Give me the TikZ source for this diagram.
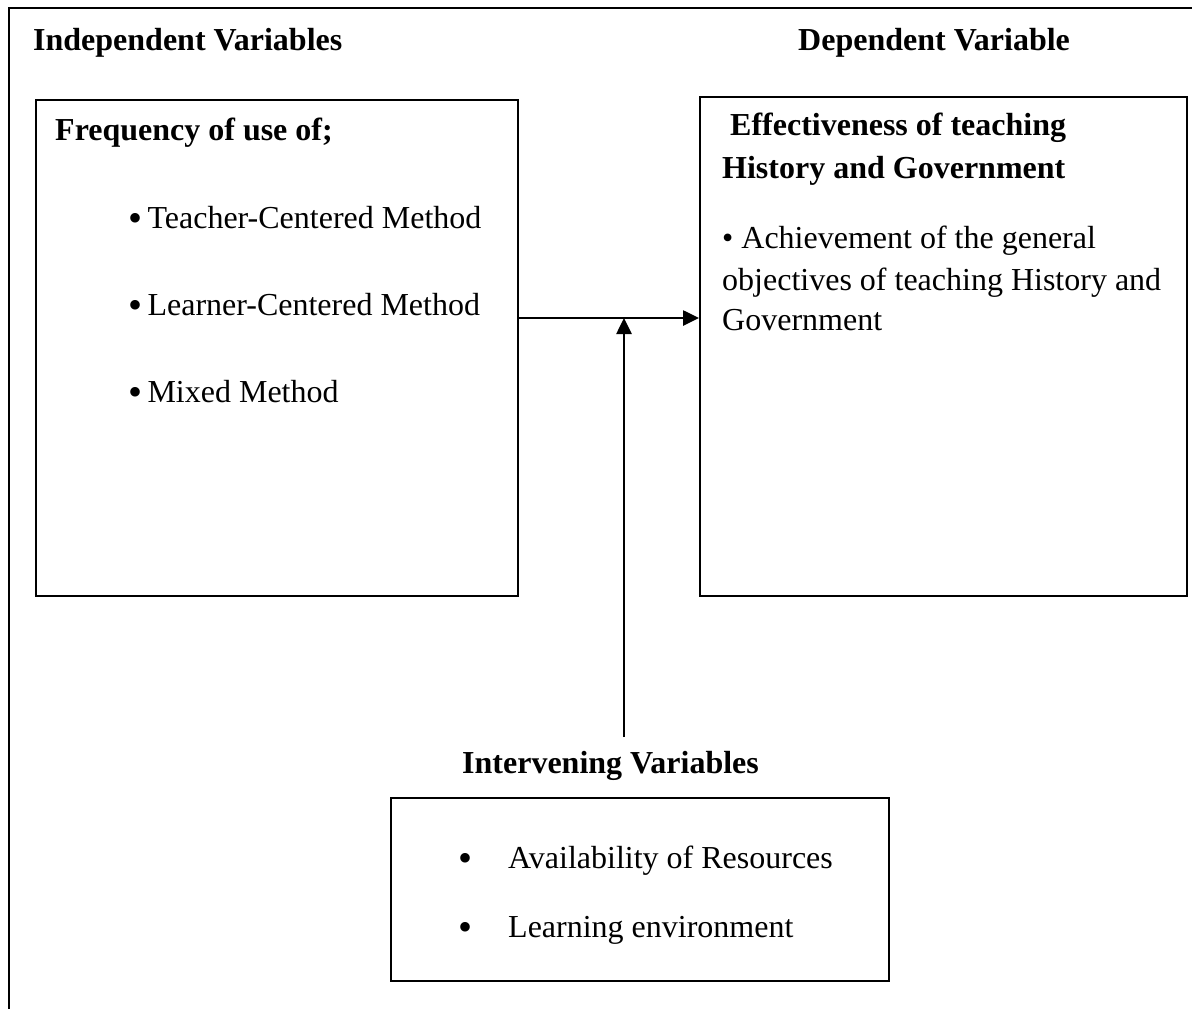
\documentclass[tikz,border=0pt]{standalone}
\usepackage{fontspec}
\setmainfont{Liberation Serif}
\usetikzlibrary{arrows.meta}
\newcommand{\bigbul}{\raisebox{-3.5bp}{\fontsize{40bp}{41bp}\selectfont •}}
\begin{document}
\begin{tikzpicture}[x=1bp,y=-1bp,
  txt/.style={anchor=base west,inner sep=0pt,font=\fontsize{32bp}{41bp}\selectfont},
  hd/.style={txt,font=\fontsize{32bp}{41bp}\selectfont\bfseries},
  box/.style={draw,line width=2bp,inner sep=0pt},
  arr/.style={line width=2.6bp,-{Triangle[length=16bp,width=15bp]}}]
\useasboundingbox (0,0) rectangle (1192,1009);
\draw[line width=2.4bp] (1192,8) -- (9,8) -- (9,1009);
% headings
\node[hd] (hind) at (33,50) {Independent Variables};
\node[hd] (hdep) at (798,50) {Dependent Variable};
\node[hd] (hint) at (462,773) {Intervening Variables};
% boxes
\node[box,minimum width=482bp,minimum height=496bp] (lbox) at (277,348) {};
\node[box,minimum width=487bp,minimum height=499bp] (rbox) at (943.5,346.5) {};
\node[box,minimum width=498bp,minimum height=183bp] (ibox) at (640,889.5) {};
% left box text
\node[hd] (freq) at (55,140) {Frequency of use of;};
\node[txt] (t1) at (128,228) {\bigbul\,Teacher-Centered Method};
\node[txt] (t2) at (128,315) {\bigbul\,Learner-Centered Method};
\node[txt] (t3) at (128,402) {\bigbul\,Mixed Method};
% right box text
\node[hd] (eff1) at (730,135) {Effectiveness of teaching};
\node[hd] (eff2) at (722,178) {History and Government};
\node[txt] (a1) at (722,248) {• Achievement of the general};
\node[txt] (a2) at (722,290) {objectives of teaching History and};
\node[txt] (a3) at (722,330) {Government};
% intervening box text
\node[txt] (b1) at (458,868) {\bigbul};
\node[txt] (i1) at (508,868) {Availability of Resources};
\node[txt] (b2) at (458,937) {\bigbul};
\node[txt] (i2) at (508,937) {Learning environment};
% connectors
\coordinate (jn) at (624,318);
\coordinate (vs) at (624,737);
\draw[arr] (lbox.east |- jn) -- (rbox.west |- jn);
\draw[arr] (vs) -- (jn);
\end{tikzpicture}
\end{document}
